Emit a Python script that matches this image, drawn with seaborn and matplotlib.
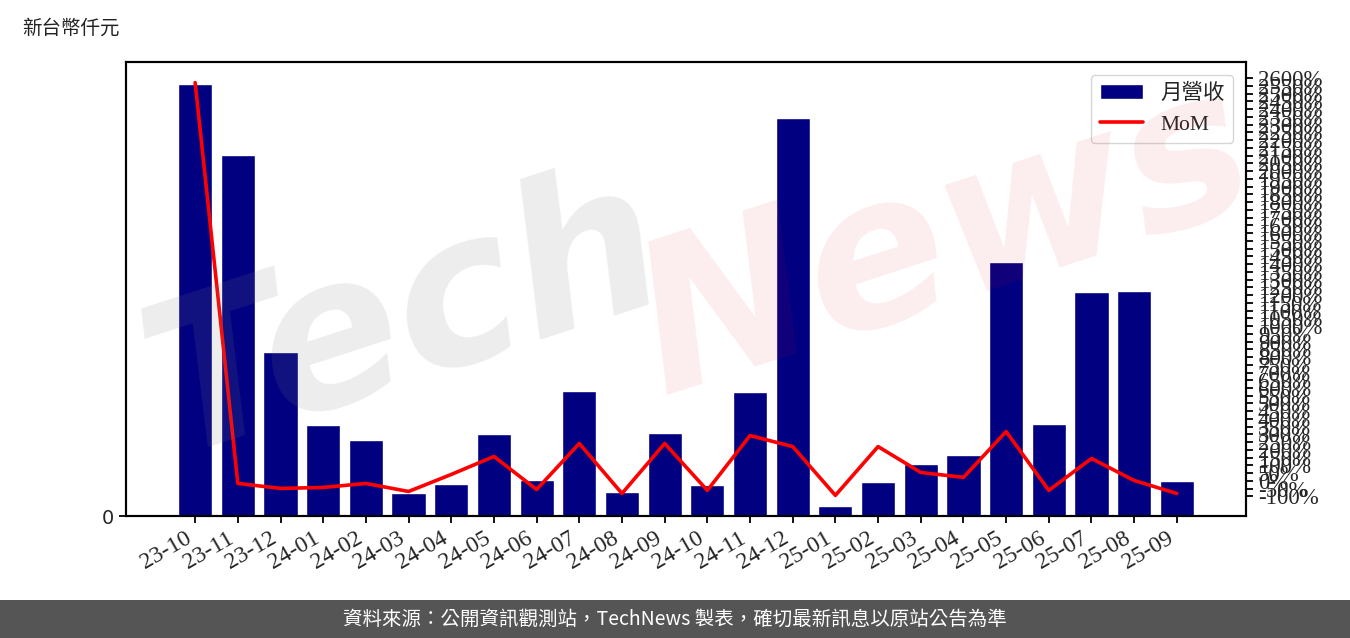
import numpy as np
import pandas as pd
import matplotlib
matplotlib.use("Agg")
import matplotlib.pyplot as plt
from matplotlib.ticker import FixedLocator, FuncFormatter
from matplotlib.patches import Rectangle
import seaborn as sns

months = ["23-10", "23-11", "23-12", "24-01", "24-02", "24-03", "24-04", "24-05",
          "24-06", "24-07", "24-08", "24-09", "24-10", "24-11", "24-12", "25-01",
          "25-02", "25-03", "25-04", "25-05", "25-06", "25-07", "25-08", "25-09"]
revenue = [43200, 36100, 16400, 9100, 7600, 2300, 3200, 8200,
           3600, 12500, 2400, 8300, 3100, 12400, 39800, 1000,
           3400, 5200, 6100, 25400, 9200, 22400, 22500, 3500]
mom = [2571, -16, -48, -42, -16, -68, 42, 158,
       -55, 242, -81, 242, -61, 293, 222, -93,
       222, 55, 23, 319, -61, 145, 3, -81]
right_ticks = list(range(-100, 2601, 50))
left_ticks = [0]

df = pd.DataFrame({"month": months, "revenue": revenue, "mom": mom,
                   "pos": np.arange(len(months))})

sns.set_style("ticks")
plt.rcParams["font.family"] = ["DejaVu Sans", "Noto Sans CJK TC"]

SERIF = ["Liberation Serif", "Noto Sans CJK TC"]
SANS_CJK = ["Noto Sans CJK TC", "DejaVu Sans"]

fig = plt.figure(figsize=(13.5, 6.38), dpi=100)
ax = fig.add_axes([126 / 1350, 1 - 516 / 638, 1120 / 1350, 454 / 638])

sns.barplot(data=df, x="month", y="revenue", color="#000080", saturation=1,
            width=0.8, ax=ax, label="月營收")
if ax.get_legend() is not None:
    ax.get_legend().remove()
ax.set_xlabel("")
ax.set_ylabel("")
ax.set_yticks(left_ticks)
ax.set_yticklabels(["0"], fontsize=14, family="DejaVu Sans")

ax2 = ax.twinx()
sns.lineplot(data=df, x="pos", y="mom", color="red", linewidth=2.6, ax=ax2,
             label="MoM", legend=False)
ax2.set_xlabel("")
ax2.set_ylabel("")
ax2.yaxis.set_major_locator(FixedLocator(right_ticks))
ax2.yaxis.set_major_formatter(FuncFormatter(lambda v, p: f"{int(v)}%"))
for t in ax2.get_yticklabels():
    t.set_family(SERIF)
    t.set_fontsize(16.5)

ax.set_xlim(-1.62, len(months) - 1 + 1.62)
ax.set_xticks(np.arange(len(months)))
ax.set_xticklabels(months, rotation=30, ha="right", fontsize=17, family=SERIF)

for a in (ax, ax2):
    for s in a.spines.values():
        s.set_linewidth(1.5)
        s.set_color("black")
    a.tick_params(width=1.3, length=5, color="black")

# legend combining both axes
h1, l1 = ax.get_legend_handles_labels()
h2, l2 = ax2.get_legend_handles_labels()
leg = ax2.legend(h1 + h2, l1 + l2, loc="upper right", prop={"family": SERIF, "size": 15.5},
                 fancybox=True, framealpha=0.8, edgecolor="#cccccc",
                 borderaxespad=0.6, handlelength=2.0)
if ax.get_legend() is not None:
    ax.get_legend().remove()

# watermark
fig.text(0.30, 0.50, "Tech", fontsize=150, fontweight="bold", style="italic",
         color=(0.5, 0.5, 0.5), alpha=0.14, rotation=18, ha="center", va="center",
         family="DejaVu Sans", zorder=10)
fig.text(0.70, 0.62, "News", fontsize=150, fontweight="bold", style="italic",
         color=(0.85, 0.1, 0.2), alpha=0.08, rotation=18, ha="center", va="center",
         family="DejaVu Sans", zorder=10)

# title
fig.text(22 / 1350, 1 - 28 / 638, "新台幣仟元", fontsize=14, family=SANS_CJK,
         ha="left", va="center", color="#222222")

# footer banner
fig.patches.append(Rectangle((0, 0), 1, 38 / 638, transform=fig.transFigure,
                             facecolor="#555555", edgecolor="none", zorder=0))
fig.text(0.5, 19 / 638, "資料來源：公開資訊觀測站，TechNews 製表，確切最新訊息以原站公告為準",
         fontsize=14, family=SANS_CJK, color="white", ha="center", va="center")

fig.savefig("out.png", dpi=100)
